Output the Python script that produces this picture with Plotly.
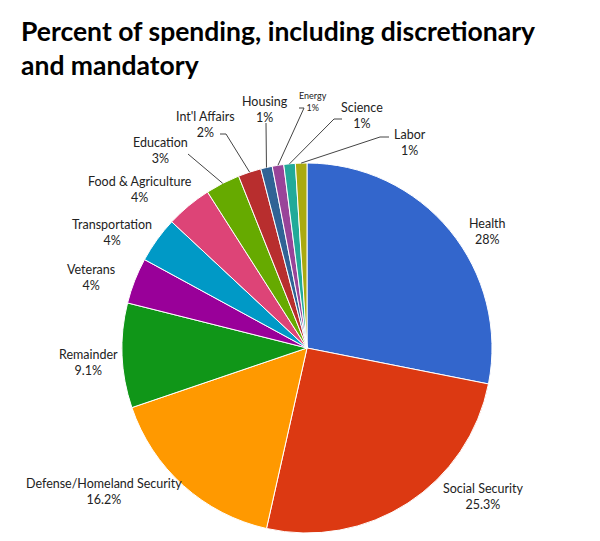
import math
import plotly.graph_objects as go

# ---- data ----
categories = ["Health", "Social Security", "Defense/Homeland Security", "Remainder",
              "Veterans", "Transportation", "Food & Agriculture", "Education",
              "Int'l Affairs", "Housing", "Energy", "Science", "Labor"]
values = [28, 25.3, 16.2, 9.1, 4, 4, 4, 3, 2, 1, 1, 1, 1]
value_labels = ["28%", "25.3%", "16.2%", "9.1%", "4%", "4%", "4%", "3%", "2%", "1%", "1%", "1%", "1%"]
colors = ["#3366cc", "#dc3912", "#ff9900", "#109618", "#990099", "#0099c6", "#dd4477",
          "#66aa00", "#b82e2e", "#316395", "#994499", "#22aa99", "#aaaa11"]

# ---- layout (pixels, page coordinates) ----
W, H = 600, 541
OFF = 8  # page body margin
CX, CY, R = 307, 348, 185

label_pos = {
    "Health": (487, 231),
    "Social Security": (483, 496),
    "Defense/Homeland Security": (104, 491),
    "Remainder": (88, 362),
    "Veterans": (91, 277),
    "Transportation": (112, 233),
    "Food & Agriculture": (140, 189),
    "Education": (160, 150),
    "Int'l Affairs": (205, 124),
    "Housing": (265, 110),
    "Energy": (313, 102),
    "Science": (362, 116),
    "Labor": (410, 142),
}
leaders = {
    "Education": [(188, 154)],
    "Int'l Affairs": [(226, 134), (220, 134)],
    "Housing": [(266, 123)],
    "Energy": [(304, 108), (299, 108)],
    "Science": [(334, 119), (342, 119)],
    "Labor": [(380, 137), (389, 137)],
}
small_font = {"Energy": 9}


def px2paper(x, y):
    return (x - OFF) / W, 1 - (y - OFF) / H


fig = go.Figure(go.Pie(
    labels=categories, values=values, sort=False, direction="clockwise", rotation=0,
    marker=dict(colors=colors, line=dict(color="white", width=1)),
    textinfo="none", hoverinfo="label+percent", showlegend=False,
    domain=dict(x=[(CX - OFF - R) / W, (CX - OFF + R) / W],
                y=[(H - (CY - OFF) - R) / H, (H - (CY - OFF) + R) / H]),
))

total = sum(values)
cum = 0
annotations = []
shapes = []
for cat, v, vl in zip(categories, values, value_labels):
    mid = (cum + v / 2) / total
    cum += v
    th = 2 * math.pi * mid
    ex, ey = CX + R * math.sin(th), CY - R * math.cos(th)
    lx, ly = label_pos[cat]
    fs = small_font.get(cat, 12.5)
    ax, ay = px2paper(lx, ly)
    annotations.append(dict(
        x=ax, y=ay, xref="paper", yref="paper", showarrow=False,
        text=f"{cat}<br>{vl}", align="center", xanchor="center", yanchor="middle",
        font=dict(family="Lato", size=fs, color="#222222"),
    ))
    if cat in leaders:
        pts = [(ex, ey)] + leaders[cat]
        path = "M " + " L ".join(f"{px2paper(x, y)[0]},{px2paper(x, y)[1]}" for x, y in pts)
        shapes.append(dict(type="path", xref="paper", yref="paper", path=path,
                           line=dict(color="#444444", width=1)))

tx, ty = px2paper(19, 13)
annotations.append(dict(
    x=tx, y=ty, xref="paper", yref="paper", showarrow=False, align="left",
    xanchor="left", yanchor="top",
    text="<b>Percent of spending, including discretionary<br>and mandatory</b>",
    font=dict(family="Lato", size=26.5, color="black"),
))

fig.update_layout(
    width=W, height=H,
    margin=dict(l=0, r=0, t=0, b=0),
    paper_bgcolor="white", plot_bgcolor="white",
    annotations=annotations, shapes=shapes,
)

fig.write_html("out.html")
